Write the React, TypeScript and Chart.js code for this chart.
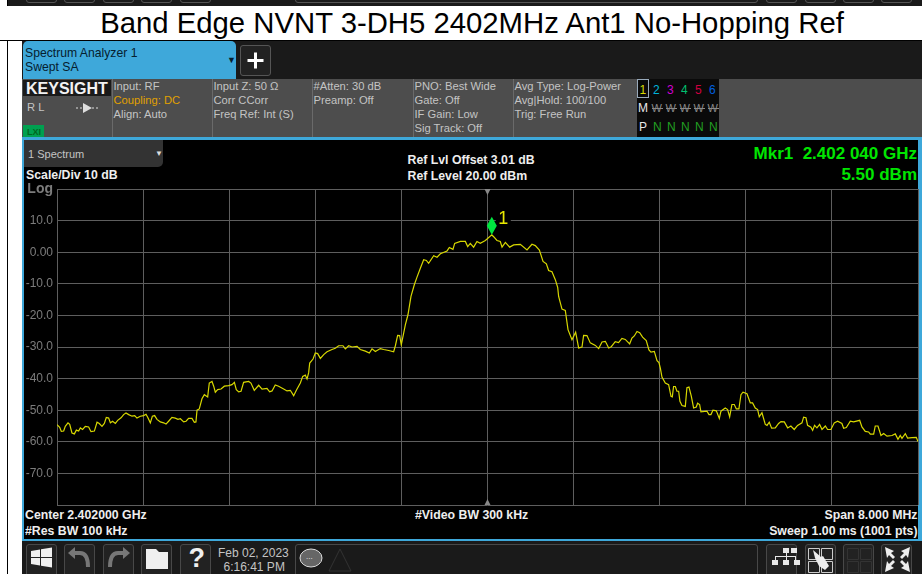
import React, { useEffect, useRef } from "react";
import { Chart, registerables } from "chart.js";

Chart.register(...registerables);

const traceOffsetMHz = [
  -4.000,-3.975,-3.960,-3.938,-3.923,-3.898,-3.882,-3.861,-3.839,-3.820,-3.799,-3.783,-3.762,-3.737,-3.706,-3.684,-3.653,-3.628,-3.607,-3.582,-3.560,-3.542,-3.520,-3.504,-3.483,-3.458,-3.436,-3.405,-3.381,-3.359,-3.334,-3.303,-3.278,-3.257,-3.226,-3.195,-3.173,-3.155,-3.133,-3.114,-3.093,-3.071,-3.040,-3.009,-2.987,-2.963,-2.932,-2.901,-2.876,-2.854,-2.823,-2.801,-2.777,-2.746,-2.724,-2.709,-2.699,-2.678,-2.653,-2.631,-2.600,-2.585,-2.560,-2.544,-2.529,-2.507,-2.476,-2.445,-2.405,-2.374,-2.352,-2.334,-2.312,-2.290,-2.266,-2.219,-2.198,-2.167,-2.126,-2.095,-2.049,-2.024,-2.002,-1.972,-1.941,-1.894,-1.863,-1.832,-1.801,-1.776,-1.739,-1.717,-1.693,-1.677,-1.662,-1.652,
  -1.621,-1.600,-1.578,-1.553,-1.522,-1.491,-1.445,-1.414,-1.383,-1.343,-1.321,-1.290,-1.259,-1.212,-1.182,-1.135,-1.098,-1.073,-1.042,-0.996,-0.965,-0.918,-0.872,-0.856,-0.835,-0.816,-0.801,-0.779,-0.763,-0.739,-0.711,-0.680,-0.655,-0.624,-0.593,-0.568,-0.547,-0.500,-0.469,-0.438,-0.376,-0.355,-0.321,-0.305,-0.252,-0.206,-0.184,-0.160,-0.129,-0.098,-0.067,-0.020,0.040,0.057,0.088,0.119,0.135,0.166,0.206,0.243,0.305,0.367,0.413,0.444,0.482,0.516,0.547,0.568,0.599,0.630,0.652,0.661,0.692,0.723,0.748,0.785,0.819,0.847,0.878,0.893,0.924,0.955,1.002,1.033,1.064,1.095,1.126,
  1.150,1.187,1.218,1.249,1.280,1.321,1.342,1.364,1.389,1.414,1.441,1.475,1.500,1.519,1.550,1.575,1.593,1.606,1.621,1.652,1.683,1.705,1.717,1.729,1.745,1.760,1.776,1.788,1.807,1.838,1.853,1.872,1.894,1.915,1.940,1.952,1.971,1.983,2.039,2.058,2.076,2.095,2.126,2.154,2.169,2.209,2.231,2.250,2.271,2.293,2.312,2.336,2.355,2.374,2.411,2.442,2.463,2.488,2.510,2.525,2.550,2.581,2.597,2.618,2.640,2.674,2.705,2.727,2.758,2.789,2.819,2.850,2.881,2.922,2.937,2.959,2.974,3.005,3.021,3.039,3.061,3.086,3.108,3.139,3.160,3.191,3.222,3.253,3.293,3.309,3.334,3.371,3.402,3.458,3.479,3.510,3.541,3.557,3.588,3.603,3.628,3.656,3.681,3.712,3.758,3.789,3.814,3.835,3.851,3.882,3.903,3.944,3.984,4.000,
];

const traceLevelDbm = [
  -54.6,-55.4,-56.7,-56.6,-55.1,-54.0,-54.5,-57.2,-57.5,-56.3,-56.6,-55.6,-56.1,-55.1,-55.3,-56.8,-56.6,-53.8,-54.2,-55.1,-54.2,-52.3,-52.5,-54.0,-53.5,-54.2,-53.2,-52.4,-51.4,-50.9,-51.4,-51.9,-51.7,-52.5,-51.9,-51.7,-51.3,-52.4,-54.0,-51.9,-51.7,-52.9,-53.7,-54.0,-54.4,-53.5,-52.3,-52.5,-52.9,-52.7,-53.7,-53.5,-52.6,-52.6,-53.8,-53.7,-50.0,-49.6,-46.4,-45.1,-45.8,-41.4,-40.9,-42.4,-44.3,-43.5,-43.3,-42.4,-42.2,-41.9,-41.2,-43.5,-44.2,-44.0,-41.2,-40.9,-41.4,-43.7,-42.1,-43.3,-43.1,-44.2,-43.9,-42.0,-42.4,-43.3,-43.9,-43.7,-45.4,-43.7,-41.4,-39.3,-38.9,-40.1,-38.2,-35.1,
  -33.8,-31.9,-32.1,-33.6,-32.4,-31.5,-30.8,-30.4,-29.6,-29.6,-30.6,-29.6,-30.0,-29.8,-30.8,-31.3,-31.9,-30.6,-31.4,-30.5,-30.8,-31.1,-31.5,-29.6,-26.3,-26.4,-29.3,-25.6,-22.9,-19.8,-14.0,-10.3,-7.9,-5.1,-2.4,-2.6,-3.5,-1.1,-1.6,-0.5,0.4,1.5,0.9,2.8,3.4,3.4,1.8,2.8,1.6,3.4,2.8,3.7,5.5,4.9,3.7,3.4,1.6,3.1,1.6,2.3,2.5,0.7,2.5,2.1,0.7,-2.9,-3.7,-5.8,-6.2,-8.7,-11.1,-14.0,-18.0,-18.4,-24.5,-27.7,-25.3,-30.3,-30.0,-26.3,-26.4,-28.7,-29.5,-30.5,-28.4,-28.2,-30.3,
  -29.9,-28.3,-28.6,-27.3,-27.6,-29.0,-27.2,-26.5,-25.1,-25.5,-26.9,-28.0,-30.9,-31.6,-31.4,-34.3,-34.9,-36.7,-39.5,-41.4,-41.9,-45.6,-45.8,-42.5,-42.5,-44.0,-44.0,-47.2,-48.5,-48.8,-42.9,-42.7,-45.6,-49.3,-49.0,-47.8,-48.2,-50.5,-50.3,-51.4,-51.4,-50.0,-50.2,-52.6,-50.3,-49.3,-49.8,-52.1,-48.2,-48.2,-49.6,-49.6,-45.1,-44.3,-44.8,-47.7,-47.7,-49.3,-49.8,-52.1,-50.8,-54.5,-54.8,-53.8,-55.7,-55.6,-54.2,-53.6,-53.7,-55.6,-55.0,-56.1,-54.8,-54.0,-52.2,-52.4,-54.8,-55.4,-56.4,-54.8,-55.6,-54.5,-56.1,-55.0,-56.1,-56.1,-54.0,-53.5,-54.2,-55.7,-55.5,-53.5,-53.7,-53.2,-55.3,-56.7,-56.9,-57.6,-57.6,-55.0,-55.0,-58.0,-57.4,-58.2,-58.0,-57.5,-59.2,-58.0,-58.9,-57.4,-58.8,-58.7,-58.6,-59.9,
];

const markerOffsetMHz = 0.04;
const markerLevelDbm = 5.5;
const levelTicks = [20, 10, 0, -10, -20, -30, -40, -50, -60, -70, -80];
const levelTickLabels = ["Log", "10.0", "0.00", "-10.0", "-20.0", "-30.0", "-40.0", "-50.0", "-60.0", "-70.0", ""];
const freqTicks = [-4, -3.2, -2.4, -1.6, -0.8, 0, 0.8, 1.6, 2.4, 3.2, 4];

const FONT = '"Liberation Sans", Arial, sans-serif';

type TProps = { x?: number; r?: number; y: number; c?: string; s?: number; b?: boolean; children: React.ReactNode };
function T({ x, r, y, c = "#c4c4c4", s = 11.2, b = false, children }: TProps) {
  const style: React.CSSProperties = {
    position: "absolute",
    top: y,
    transform: "translateY(-50%)",
    whiteSpace: "pre",
    color: c,
    fontSize: s,
    fontWeight: b ? 700 : 400,
    lineHeight: 1,
    fontFamily: FONT,
  };
  if (x !== undefined) style.left = x;
  if (r !== undefined) style.right = 922 - r;
  return <div style={style}>{children}</div>;
}

function Box({ x, y, w, h, bg, border, radius }: { x: number; y: number; w: number; h: number; bg?: string; border?: string; radius?: string | number }) {
  return (
    <div
      style={{
        position: "absolute",
        left: x,
        top: y,
        width: w,
        height: h,
        background: bg,
        border,
        borderRadius: radius,
        boxSizing: "border-box",
      }}
    />
  );
}

const toolButtons = [26, 64, 103, 141, 180, 766, 805, 843, 881];
const statusSeparators = [112, 212, 312, 413, 513];
const traceNumbers = ["1", "2", "3", "4", "5", "6"];
const traceColors = ["#d8d800", "#00b4d8", "#d000d0", "#00c070", "#d00040", "#0060e0"];
const traceColumns = [639.5, 653, 667, 681, 695, 709];

function Chrome() {
  return (
    <>
      <Box x={0} y={0} w={922} h={574} bg="#ffffff" />
      <Box x={7} y={0} w={1} h={6} bg="#000" />
      <Box x={8} y={0} w={914} h={6} bg="#1a1a1a" />
      {toolButtons.map((x) => (
        <Box key={x} x={x} y={-20} w={31} h={22.5} border="1px solid #555" radius={3} />
      ))}
      <Box x={295} y={-20} w={463} h={22.5} border="1px solid #555" radius={3} />
      <Box x={0} y={40} w={922} h={1} bg="#000" />
      <Box x={7} y={40} w={1} h={534} bg="#000" />
      <div
        style={{
          position: "absolute",
          left: 0,
          width: 944,
          top: 6,
          height: 34,
          textAlign: "center",
          lineHeight: "34px",
          fontSize: 29.3,
          color: "#000",
          fontFamily: FONT,
          whiteSpace: "pre",
        }}
      >
        Band Edge NVNT 3-DH5 2402MHz Ant1 No-Hopping Ref
      </div>

      <Box x={22} y={41} w={900} h={38} bg="#1a1a1a" />
      <div style={{ position: "absolute", left: 23, top: 41, width: 213, height: 38, background: "#3ea8da", borderRadius: "5px 5px 0 0" }} />
      <T x={25} y={53} c="#06202e" s={12.2}>Spectrum Analyzer 1</T>
      <T x={25} y={67} c="#06202e" s={12.2}>Swept SA</T>
      <T x={227} y={60} c="#06202e" s={9}>▼</T>
      <Box x={240} y={45} w={31} h={31} bg="#222" border="1px solid #555" radius={3} />
      <svg style={{ position: "absolute", left: 240, top: 45 }} width={31} height={31}>
        <path d="M15.5 7.5v16M7.5 15.5h16" stroke="#fff" strokeWidth={3} />
      </svg>

      <Box x={22} y={79} w={900} h={58} bg="#4d4d4d" />
      {statusSeparators.map((x) => (
        <Box key={x} x={x} y={79} w={1} h={58} bg="#6a6a6a" />
      ))}
      <Box x={23} y={80} w={88} h={16} bg="#1a1a1a" />
      <T x={26} y={88.5} c="#f2f2f2" s={16} b>KEYSIGHT</T>
      <T x={27} y={107.5} c="#c4c4c4" s={11.2}>R L</T>
      <svg style={{ position: "absolute", left: 75, top: 102 }} width={24} height={12}>
        <path d="M1 6h22" stroke="#ddd" strokeWidth={1} strokeDasharray="2 2" />
        <path d="M8 1l9 5-9 5z" fill="#ddd" />
      </svg>
      <Box x={23} y={125} w={21} h={12} bg="#00a050" />
      <T x={27} y={132} c="#062" s={9} b>LXI</T>
      <T x={113.5} y={87}>Input: RF</T>
      <T x={113.5} y={101} c="#e0a000">Coupling: DC</T>
      <T x={113.5} y={115}>Align: Auto</T>
      <T x={213.5} y={87}>Input Z: 50 Ω</T>
      <T x={213.5} y={101}>Corr CCorr</T>
      <T x={213.5} y={115}>Freq Ref: Int (S)</T>
      <T x={313.5} y={87}>#Atten: 30 dB</T>
      <T x={313.5} y={101}>Preamp: Off</T>
      <T x={414.5} y={87}>PNO: Best Wide</T>
      <T x={414.5} y={101}>Gate: Off</T>
      <T x={414.5} y={115}>IF Gain: Low</T>
      <T x={414.5} y={129}>Sig Track: Off</T>
      <T x={514.5} y={87}>Avg Type: Log-Power</T>
      <T x={514.5} y={101}>Avg|Hold: 100/100</T>
      <T x={514.5} y={115}>Trig: Free Run</T>

      <Box x={637} y={79} w={82} h={58} bg="#0a0a0a" />
      <Box x={637} y={79} w={12} h={19} border="1px solid #9ab" />
      {traceNumbers.map((n, i) => (
        <T key={n} x={traceColumns[i]} y={89.5} c={traceColors[i]} s={12}>{n}</T>
      ))}
      <T x={638} y={108} c="#e8e8e8" s={12}>M</T>
      <T x={639} y={127} c="#e8e8e8" s={12}>P</T>
      {traceColumns.slice(1).map((x) => (
        <React.Fragment key={x}>
          <T x={x - 1.5} y={108} c="#888" s={11}>W</T>
          <Box x={x - 1.5} y={108} w={11} h={1} bg="#888" />
          <T x={x} y={127} c="#22a022" s={12}>N</T>
        </React.Fragment>
      ))}

      <Box x={22} y={137} w={900} h={404} bg="#3ea8da" />
      <Box x={24} y={140} w={894} h={399} bg="#000" />
      <div style={{ position: "absolute", left: 24, top: 140, width: 139, height: 27, background: "#333", borderRadius: "0 0 5px 0" }} />
      <T x={28} y={154} s={11}>1 Spectrum</T>
      <T x={155} y={154} c="#ddd" s={8}>▼</T>
      <T x={26} y={175} c="#eee" s={12.3} b>Scale/Div 10 dB</T>
      <T x={407.5} y={160} c="#eee" s={12.3} b>Ref Lvl Offset 3.01 dB</T>
      <T x={407.5} y={175.5} c="#eee" s={12.3} b>Ref Level 20.00 dBm</T>
      <T r={917} y={152.5} c="#00e600" s={17} b>{"Mkr1  2.402 040 GHz"}</T>
      <T r={917} y={173.5} c="#00e600" s={17} b>5.50 dBm</T>
      <T x={25} y={515} c="#eee" s={12.3} b>Center 2.402000 GHz</T>
      <T x={25} y={530.5} c="#eee" s={12.3} b>#Res BW 100 kHz</T>
      <T x={415} y={515} c="#eee" s={12.3} b>#Video BW 300 kHz</T>
      <T r={917.5} y={515} c="#eee" s={12.3} b>Span 8.000 MHz</T>
      <T r={917.5} y={530.5} c="#eee" s={12.3} b>Sweep 1.00 ms (1001 pts)</T>

      <Box x={22} y={541} w={900} h={33} bg="#1a1a1a" />
      {toolButtons.map((x) => (
        <Box key={x} x={x} y={544} w={31} h={34} bg="#222" border="1px solid #484848" radius={3} />
      ))}
      <Box x={295} y={544} w={463} h={34} border="1px solid #484848" radius={3} />
      <svg style={{ position: "absolute", left: 0, top: 542 }} width={922} height={32}>
        <g fill="#f0f0f0">
          <path d="M31 9l9-1.5V15H31zM41 7.3L52 5.5V15H41zM31 16h9v7.5L31 22zM41 16h11v9.5L41 23.7z" />
          <path d="M146 27V7h10l3 3h9v17z" />
        </g>
        <g fill="none" stroke="#777" strokeWidth={4}>
          <path d="M71 11h9c6 0 8 5 8 14" />
          <path d="M127 11h-9c-6 0-8 5-8 14" />
        </g>
        <path d="M68 11l7-6v12z" fill="#777" />
        <path d="M130 11l-7-6v12z" fill="#777" />
        <g fill="#e8e8e8">
          <path d="M783 6h6v5h-6zM791 6h6v5h-6zM772 18h6v5h-6zM783 18h6v5h-6zM794 18h6v5h-6z" />
          <path d="M786 11h1v7h-1zM775 14h20v1h-20zM775 14h1v4h-1zM795 14h1v4h-1z" />
        </g>
        <g fill="none" stroke="#ccc" strokeWidth={1}>
          <path d="M808.5 6.5h11v11h-11zM821.5 6.5h11v11h-11zM808.5 19.5h11v11h-11zM821.5 19.5h11v11h-11z" />
        </g>
        <path d="M813 8l8 7 2-1 6 10-4 4-6-4-4-8z" fill="#eee" />
        <g fill="none" stroke="#333" strokeWidth={1}>
          <path d="M847.5 6.5h11v11h-11zM860.5 6.5h11v11h-11zM847.5 19.5h11v11h-11zM860.5 19.5h11v11h-11z" />
        </g>
        <g fill="#eee">
          <path d="M885 5l9 4-3 2 4 4-2 2-4-4-2 3zM910 5l-9 4 3 2-4 4 2 2 4-4 2 3zM885 30l9-4-3-2 4-4-2-2-4 4-2-3zM910 30l-9-4 3-2-4-4 2-2 4 4 2-3z" />
        </g>
        <ellipse cx={311} cy={16} rx={11} ry={9} fill="#666" stroke="#ddd" strokeWidth={1} />
        <path d="M329 29l11-22 11 22z" fill="none" stroke="#333" strokeWidth={1} />
      </svg>
      <T x={188.5} y={558} c="#f0f0f0" s={27} b>?</T>
      <T x={218} y={552.5} s={12}>Feb 02, 2023</T>
      <T x={223.5} y={566.5} s={12}>6:16:41 PM</T>
      <T x={306} y={557} c="#eee" s={8}>...</T>
    </>
  );
}

export default function App() {
  const canvasRef = useRef<HTMLCanvasElement | null>(null);

  useEffect(() => {
    if (!canvasRef.current) return;
    const markerPlugin = {
      id: "sweepMarker",
      afterDatasetsDraw(chart: any) {
        const { ctx, scales } = chart;
        const x = scales.x.getPixelForValue(markerOffsetMHz);
        const y = scales.y.getPixelForValue(markerLevelDbm);
        const cx = scales.x.getPixelForValue(0);
        ctx.save();
        ctx.fillStyle = "#000";
        ctx.fillRect(x + 4, y - 16, 15, 8);
        ctx.fillStyle = "#00e640";
        ctx.beginPath();
        ctx.moveTo(x, y);
        ctx.lineTo(x + 5, y - 9);
        ctx.lineTo(x, y - 18);
        ctx.lineTo(x - 5, y - 9);
        ctx.closePath();
        ctx.fill();
        ctx.fillStyle = "#e8e800";
        ctx.font = `18px ${FONT}`;
        ctx.textAlign = "left";
        ctx.textBaseline = "middle";
        ctx.fillText("1", x + 6.5, y - 16);
        ctx.fillStyle = "#888";
        const top = chart.chartArea.top;
        const bottom = chart.chartArea.bottom;
        ctx.beginPath();
        ctx.moveTo(cx - 3, top);
        ctx.lineTo(cx + 3, top);
        ctx.lineTo(cx, top + 6);
        ctx.closePath();
        ctx.moveTo(cx - 3, bottom);
        ctx.lineTo(cx + 3, bottom);
        ctx.lineTo(cx, bottom - 6);
        ctx.closePath();
        ctx.fill();
        ctx.restore();
      },
    };

    const chart = new Chart(canvasRef.current, {
      type: "line",
      data: {
        datasets: [
          {
            data: traceOffsetMHz.map((x, i) => ({ x, y: traceLevelDbm[i] })),
            borderColor: "#d8d800",
            borderWidth: 1.2,
            pointRadius: 0,
            tension: 0,
            fill: false,
          },
        ],
      },
      options: {
        animation: false,
        responsive: false,
        events: [],
        layout: { padding: { left: 0, top: 189, right: 4, bottom: 69 } },
        plugins: { legend: { display: false }, tooltip: { enabled: false }, title: { display: false } },
        scales: {
          x: {
            type: "linear",
            min: -4,
            max: 4,
            afterBuildTicks: (axis: any) => {
              axis.ticks = freqTicks.map((value) => ({ value }));
            },
            afterFit: (axis: any) => {
              axis.height = 0;
            },
            ticks: { display: false },
            border: { display: false },
            grid: { color: "#5e5e5e", lineWidth: 1, drawTicks: false },
          },
          y: {
            type: "linear",
            min: -80,
            max: 20,
            afterBuildTicks: (axis: any) => {
              axis.ticks = levelTicks.map((value) => ({ value }));
            },
            afterFit: (axis: any) => {
              axis.width = 57;
            },
            ticks: {
              color: "#7c7c7c",
              padding: 4,
              font: (ctx: any) => ({
                family: FONT,
                size: ctx.tick && ctx.tick.value === 20 ? 14 : 12,
                weight: ctx.tick && ctx.tick.value === 20 ? "bold" : "normal",
              }),
              callback: (value: any) => levelTickLabels[levelTicks.indexOf(Number(value))] ?? "",
            },
            border: { display: false },
            grid: { color: "#5e5e5e", lineWidth: 1, drawTicks: false },
          },
        },
      },
      plugins: [markerPlugin],
    } as any);
    return () => chart.destroy();
  }, []);

  return (
    <div style={{ position: "absolute", left: 0, top: 0, width: 922, height: 574, overflow: "hidden", fontFamily: FONT }}>
      <Chrome />
      <canvas ref={canvasRef} width={922} height={574} style={{ position: "absolute", left: 0, top: 0, width: 922, height: 574 }} />
    </div>
  );
}
